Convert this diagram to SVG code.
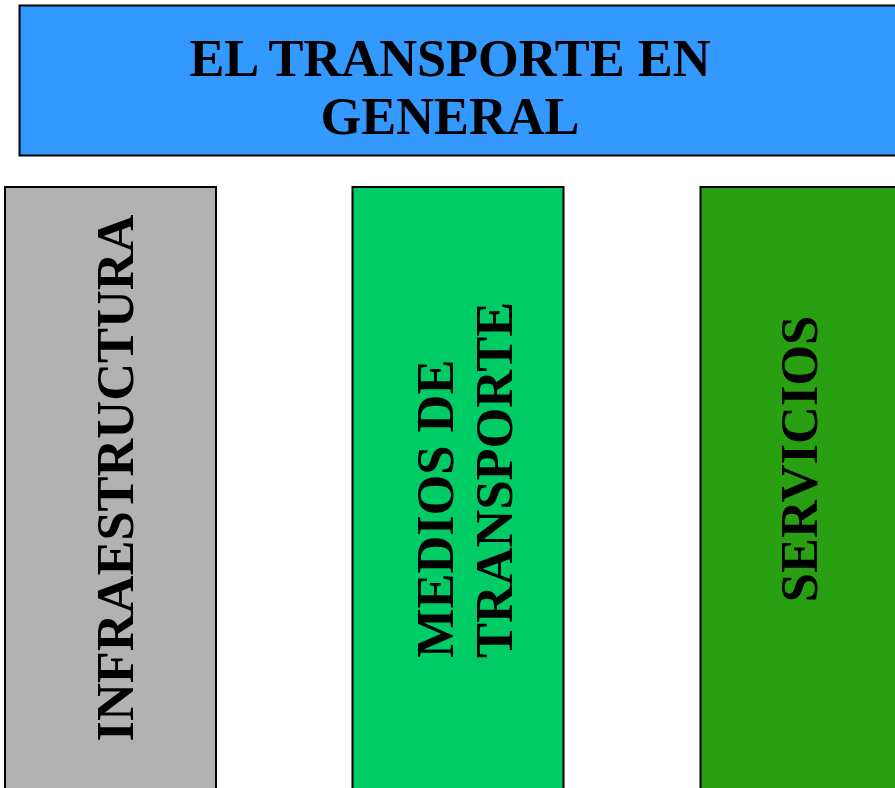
<svg xmlns="http://www.w3.org/2000/svg" width="895" height="788" viewBox="0 0 895 788">
<style>
.box{stroke:#000;stroke-width:2}
.t{font-family:"Liberation Serif","Times New Roman",serif;font-weight:bold;font-size:52.4px;fill:#000}
</style>
<rect width="895" height="788" fill="#fff"/>
<g id="title">
<rect class="box" x="19.5" y="5.5" width="900" height="150" fill="#3399FF"/>
<text class="t" x="450" y="76" text-anchor="middle">EL TRANSPORTE EN</text>
<text class="t" x="450" y="134" text-anchor="middle">GENERAL</text>
</g>
<g id="infraestructura">
<rect class="box" x="5" y="187" width="211" height="640" fill="#B2B2B2"/>
<text class="t" transform="translate(133,478) rotate(-90)" text-anchor="middle">INFRAESTRUCTURA</text>
</g>
<g id="medios">
<rect class="box" x="352.5" y="187" width="211" height="640" fill="#00CC66"/>
<text class="t" transform="translate(453,658) rotate(-90)">MEDIOS DE</text>
<text class="t" transform="translate(512,658) rotate(-90)">TRANSPORTE</text>
</g>
<g id="servicios">
<rect class="box" x="700.5" y="187" width="240" height="640" fill="#29A012"/>
<text class="t" transform="translate(817,459) rotate(-90)" text-anchor="middle">SERVICIOS</text>
</g>
<g id="connectors"></g>
</svg>
